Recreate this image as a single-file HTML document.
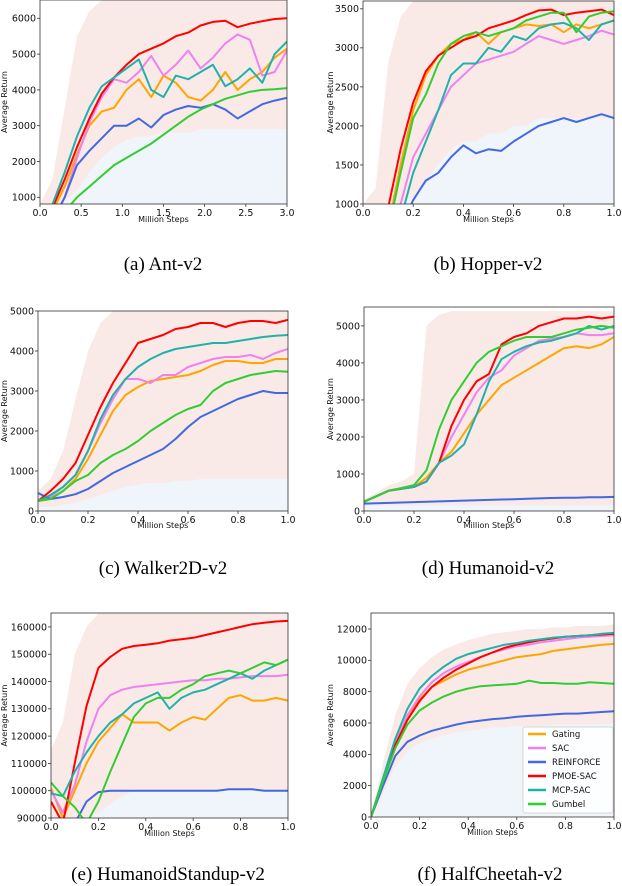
<!DOCTYPE html>
<html><head><meta charset="utf-8">
<style>
html,body{margin:0;padding:0;background:#fff;}
svg{display:block;}
</style></head>
<body>
<svg id="fig" width="622" height="886" viewBox="0 0 622 886" xmlns="http://www.w3.org/2000/svg" font-family="'DejaVu Sans','Liberation Sans',sans-serif"></svg>
<script>
const seriesNames = ["Gating","SAC","REINFORCE","PMOE-SAC","MCP-SAC","Gumbel"];
const seriesColors = ["#FFA500","#EE82EE","#4169E1","#FF0000","#20B2AA","#32CD32"];
const xsA = [0,0.15,0.3,0.45,0.6,0.75,0.9,1.05,1.2,1.35,1.5,1.65,1.8,1.95,2.1,2.25,2.4,2.55,2.7,2.85,3.0];
const xsU = [0,0.05,0.1,0.15,0.2,0.25,0.3,0.35,0.4,0.45,0.5,0.55,0.6,0.65,0.7,0.75,0.8,0.85,0.9,0.95,1.0];

const antGating = [100,600,1300,2200,3000,3400,3500,4000,4300,3800,4400,4200,3800,3700,4000,4500,4000,4300,4500,4900,5150];
const antSAC = [100,400,1000,2100,3100,3800,4300,4200,4500,4950,4400,4700,5100,4600,4900,5300,5550,5400,4400,4500,5100];
const antREINFORCE = [0,300,1000,1900,2300,2650,3000,3000,3200,2950,3300,3450,3550,3500,3600,3450,3200,3400,3600,3700,3780];
const antPMOE = [200,700,1500,2400,3200,3900,4350,4700,5000,5150,5300,5500,5600,5800,5900,5930,5750,5850,5920,5980,6000];
const antMCP = [200,800,1700,2700,3500,4100,4350,4600,4850,4000,3800,4400,4300,4500,4700,4100,4300,4600,4200,5000,5350];
const antGumbel = [-200,200,600,1000,1300,1600,1900,2100,2300,2500,2750,3000,3250,3450,3600,3750,3850,3950,4000,4020,4050];
const antEnvHi = [800,1500,3500,5500,6200,6500,6500,6500,6500,6500,6500,6500,6500,6500,6500,6500,6500,6500,6500,6500,6500];
const antEnvLo = [800,800,900,1200,1700,2100,2400,2600,2700,2700,2800,2800,2800,2900,2900,2900,2900,2900,2900,2900,2900];

const hopGating = [0,200,700,1500,2200,2650,2900,3050,3100,3200,3050,3200,3250,3300,3280,3300,3200,3300,3250,3300,3350];
const hopSAC = [0,100,500,1000,1600,1900,2200,2500,2650,2800,2850,2900,2950,3050,3150,3100,3050,3100,3150,3220,3170];
const hopREINFORCE = [0,0,300,700,1050,1300,1400,1600,1750,1650,1700,1680,1800,1900,2000,2050,2100,2050,2100,2150,2100];
const hopPMOE = [0,300,950,1700,2300,2700,2900,3000,3100,3150,3250,3300,3350,3420,3480,3490,3420,3450,3470,3490,3420];
const hopMCP = [0,0,300,800,1400,1800,2200,2650,2800,2800,3000,2950,3150,3100,3250,3300,3320,3250,3100,3300,3350];
const hopGumbel = [0,200,650,1400,2100,2400,2800,3050,3150,3200,3150,3200,3250,3350,3400,3450,3450,3200,3400,3450,3470];
const hopEnvHi = [1000,1200,2800,3400,3600,3600,3600,3600,3600,3600,3600,3600,3600,3600,3600,3600,3600,3600,3600,3600,3600];
const hopEnvLo = [1000,1000,1000,1000,1100,1300,1500,1700,1800,1800,1900,1900,2000,2000,2100,2100,2100,2100,2100,2100,2100];

const walGating = [250,300,500,800,1300,1900,2500,2900,3100,3250,3300,3350,3400,3500,3650,3750,3750,3700,3700,3800,3800];
const walSAC = [250,350,600,900,1500,2200,2800,3300,3300,3200,3400,3400,3600,3700,3800,3850,3850,3900,3800,3950,4050];
const walREINFORCE = [450,300,350,420,550,750,950,1100,1250,1400,1550,1800,2100,2350,2500,2650,2800,2900,3000,2950,2950];
const walPMOE = [250,500,800,1200,1900,2600,3200,3700,4200,4300,4400,4550,4600,4700,4700,4600,4700,4750,4750,4700,4780];
const walMCP = [250,400,600,900,1500,2300,2900,3300,3600,3800,3950,4050,4100,4150,4200,4200,4250,4300,4350,4380,4400];
const walGumbel = [250,300,500,750,900,1200,1400,1550,1750,2000,2200,2400,2550,2650,3000,3200,3300,3400,3450,3500,3480];
const walEnvHi = [500,800,1500,2800,4000,4700,5000,5000,5000,5000,5000,5000,5000,5000,5000,5000,5000,5000,5000,5000,5000];
const walEnvLo = [100,100,150,200,300,400,500,600,650,700,700,750,750,800,800,800,800,800,800,800,800];

const humGating = [250,400,550,600,650,900,1300,1600,2100,2600,3000,3400,3600,3800,4000,4200,4400,4450,4400,4500,4700];
const humSAC = [250,400,550,600,650,800,1300,2000,2600,3200,3600,3800,4200,4400,4600,4650,4700,4800,4750,4750,4800];
const humREINFORCE = [200,210,220,230,240,250,260,270,280,290,300,310,320,330,340,350,360,360,370,370,380];
const humPMOE = [250,400,550,600,650,800,1300,2300,3000,3500,3700,4500,4700,4800,5000,5100,5200,5200,5250,5200,5250];
const humMCP = [250,400,550,600,650,800,1300,1500,1800,2600,3500,4100,4300,4450,4550,4600,4700,4800,5000,4900,5000];
const humGumbel = [250,400,550,620,700,1100,2200,3000,3500,4000,4300,4450,4600,4700,4700,4700,4800,4900,4950,5000,4950];
const humEnvHi = [300,500,700,800,1000,5000,5300,5400,5400,5400,5400,5400,5400,5400,5400,5400,5400,5400,5400,5400,5400];
const humEnvLo = [150,150,150,150,150,150,150,150,150,150,150,150,150,150,150,150,150,150,150,150,150];

const hsGating = [101000,90000,100000,110000,118000,123000,128000,125000,125000,125000,122000,125000,127000,126000,130000,134000,135000,133000,133000,134000,133000];
const hsSAC = [100000,92000,102000,118000,130000,135000,137000,138000,138500,139000,139500,140000,140500,140500,141000,141000,141500,142000,142000,142000,142500];
const hsREINFORCE = [90000,85000,88000,96000,99500,100000,100000,100000,100000,100000,100000,100000,100000,100000,100000,100500,100500,100500,100000,100000,100000];
const hsPMOE = [96000,88000,110000,131000,145000,149000,152000,153000,153500,154000,155000,155500,156000,157000,158000,159000,160000,161000,161500,162000,162200];
const hsMCP = [99000,98000,107000,114000,120000,125000,128000,132000,134000,136000,130000,134000,136000,137000,139000,141000,143000,141000,144000,146000,148000];
const hsGumbel = [103000,98000,94000,88000,96000,107000,117000,127000,132000,134000,134000,137000,139000,142000,143000,144000,143000,145000,147000,146000,148000];
const hsEnvHi = [115000,125000,150000,160000,165000,165000,165000,165000,165000,165000,165000,165000,165000,165000,165000,165000,165000,165000,165000,165000,165000];
const hsEnvLo = [90000,90000,90000,90000,92000,95000,98000,100000,100000,100000,100000,100000,100000,100000,100000,100000,100000,100000,100000,100000,100000];

const hcGating = [0,2400,4600,6300,7500,8300,8700,9100,9400,9600,9800,10000,10200,10300,10400,10600,10700,10800,10900,11000,11050];
const hcSAC = [0,2400,4700,6500,7700,8600,9200,9600,9900,10200,10500,10700,10900,11000,11150,11250,11350,11450,11500,11550,11600];
const hcREINFORCE = [0,2000,3900,4800,5200,5500,5700,5900,6050,6150,6250,6300,6400,6450,6500,6550,6600,6600,6650,6700,6750];
const hcPMOE = [0,2400,4600,6200,7400,8300,8900,9400,9800,10200,10500,10800,11000,11150,11300,11400,11500,11550,11600,11650,11700];
const hcMCP = [0,2500,5000,6900,8200,9000,9600,10100,10400,10600,10800,11000,11100,11250,11350,11450,11500,11550,11600,11700,11750];
const hcGumbel = [0,2300,4400,5900,6800,7300,7700,8000,8200,8350,8400,8450,8500,8700,8550,8550,8500,8500,8600,8550,8500];
const hcEnvHi = [0,3500,6500,8500,9500,10200,10700,11000,11300,11500,11700,11800,11900,12000,12000,12100,12100,12200,12200,12200,12300];
const hcEnvLo = [0,1500,3200,4200,4700,5000,5200,5400,5500,5600,5700,5700,5800,5800,5800,5900,5900,5900,5900,5900,6000];

const antXTicks = [0,0.5,1.0,1.5,2.0,2.5,3.0];
const unitXTicks = [0,0.2,0.4,0.6,0.8,1.0];
const antYTicks = [1000,2000,3000,4000,5000,6000];
const hopYTicks = [1000,1500,2000,2500,3000,3500];
const walYTicks = [0,1000,2000,3000,4000,5000];
const humYTicks = [0,1000,2000,3000,4000,5000];
const hsYTicks = [90000,100000,110000,120000,130000,140000,150000,160000];
const hcYTicks = [0,2000,4000,6000,8000,10000,12000];

const NS = "http://www.w3.org/2000/svg";
const fig = document.getElementById("fig");
function mk(tag, attrs, parent){
  const e = document.createElementNS(NS, tag);
  for (const k in attrs) e.setAttribute(k, attrs[k]);
  (parent||fig).appendChild(e);
  return e;
}

const panels = [
  {id:"ant", x0:40,x1:287,top:0,bottom:204,xmin:0,xmax:3,ymin:813,ymax:6511,xs:xsA,xt:antXTicks,yt:antYTicks,
   data:[antGating,antSAC,antREINFORCE,antPMOE,antMCP,antGumbel],hi:antEnvHi,lo:antEnvLo,ylx:7,xly:222,cap:"(a)  Ant-v2",capx:163,capy:270},
  {id:"hopper", x0:363,x1:614,top:1,bottom:204,xmin:0,xmax:1,ymin:1000,ymax:3600,xs:xsU,xt:unitXTicks,yt:hopYTicks,
   data:[hopGating,hopSAC,hopREINFORCE,hopPMOE,hopMCP,hopGumbel],hi:hopEnvHi,lo:hopEnvLo,ylx:333,xly:222,cap:"(b)  Hopper-v2",capx:488,capy:270},
  {id:"walker", x0:38,x1:288,top:311,bottom:511,xmin:0,xmax:1,ymin:0,ymax:5000,xs:xsU,xt:unitXTicks,yt:walYTicks,
   data:[walGating,walSAC,walREINFORCE,walPMOE,walMCP,walGumbel],hi:walEnvHi,lo:walEnvLo,ylx:7,xly:528,cap:"(c)  Walker2D-v2",capx:163,capy:574},
  {id:"humanoid", x0:364,x1:614,top:307,bottom:511,xmin:0,xmax:1,ymin:0,ymax:5510,xs:xsU,xt:unitXTicks,yt:humYTicks,
   data:[humGating,humSAC,humREINFORCE,humPMOE,humMCP,humGumbel],hi:humEnvHi,lo:humEnvLo,ylx:333,xly:528,cap:"(d)  Humanoid-v2",capx:488,capy:574},
  {id:"standup", x0:51,x1:288,top:613,bottom:818,xmin:0,xmax:1,ymin:90000,ymax:165100,xs:xsU,xt:unitXTicks,yt:hsYTicks,
   data:[hsGating,hsSAC,hsREINFORCE,hsPMOE,hsMCP,hsGumbel],hi:hsEnvHi,lo:hsEnvLo,ylx:7,xly:836,cap:"(e)  HumanoidStandup-v2",capx:168,capy:880},
  {id:"halfcheetah", x0:371,x1:614,top:613,bottom:817,xmin:0,xmax:1,ymin:0,ymax:13021,xs:xsU,xt:unitXTicks,yt:hcYTicks,
   data:[hcGating,hcSAC,hcREINFORCE,hcPMOE,hcMCP,hcGumbel],hi:hcEnvHi,lo:hcEnvLo,ylx:333,xly:835,cap:"(f)  HalfCheetah-v2",capx:490,capy:880}
];

panels.forEach(p=>{
  const sx = v => p.x0 + (v-p.xmin)/(p.xmax-p.xmin)*(p.x1-p.x0);
  const sy = v => p.bottom - (v-p.ymin)/(p.ymax-p.ymin)*(p.bottom-p.top);
  const g = mk("g", {});
  
  
  const cid = "clip-"+p.id;
  const cp = mk("clipPath", {id:cid}, g);
  mk("rect", {x:p.x0,y:p.top,width:p.x1-p.x0,height:p.bottom-p.top}, cp);
  const plot = mk("g", {"clip-path":"url(#"+cid+")"}, g);
  let d = "M"+sx(p.xs[0])+","+sy(p.ymin);
  p.xs.forEach((x,i)=>{ d += " L"+sx(x)+","+sy(p.lo[i]); });
  d += " L"+sx(p.xs[p.xs.length-1])+","+sy(p.ymin)+" Z";
  const lb = mk("path", {d:d, fill:"rgba(200,215,240,0.28)"}, plot);
  
  
  d = "";
  p.xs.forEach((x,i)=>{ d += (i?" L":"M")+sx(x)+","+sy(p.hi[i]); });
  for (let i=p.xs.length-1;i>=0;i--) d += " L"+sx(p.xs[i])+","+sy(p.lo[i]);
  d += " Z";
  const ub = mk("path", {d:d, fill:"rgba(240,200,195,0.38)"}, plot);
  
  
  p.data.forEach((arr,si)=>{
    let pd = "";
    arr.forEach((v,i)=>{ pd += (i?" L":"M")+sx(p.xs[i]).toFixed(1)+","+sy(v).toFixed(1); });
    const ln = mk("path", {d:pd, fill:"none", stroke:seriesColors[si], "stroke-width":2, "stroke-linejoin":"round"}, plot);
    
    
  });
  const fr = mk("rect", {x:p.x0,y:p.top,width:p.x1-p.x0,height:p.bottom-p.top,fill:"none",stroke:"#333","stroke-width":0.8}, g);
  
  
  p.xt.forEach(t=>{
    const x = sx(t);
    mk("line", {x1:x,x2:x,y1:p.bottom,y2:p.bottom+3,stroke:"#333","stroke-width":0.8}, g);
    const tx = mk("text", {x:x,y:p.bottom+12,"font-size":9.5,"text-anchor":"middle",fill:"#111"}, g);
    tx.textContent = t.toFixed(1);
    
    
  });
  p.yt.forEach(t=>{
    const y = sy(t);
    mk("line", {x1:p.x0-3,x2:p.x0,y1:y,y2:y,stroke:"#333","stroke-width":0.8}, g);
    const ty = mk("text", {x:p.x0-4,y:y+3.4,"font-size":9.5,"text-anchor":"end",fill:"#111"}, g);
    ty.textContent = String(t);
    
    
  });
  const xl = mk("text", {x:(p.x0+p.x1)/2,y:p.xly,"font-size":8,"text-anchor":"middle",fill:"#111"}, g);
  xl.textContent = "Million Steps";
  
  
  const cy = (p.top+p.bottom)/2;
  const yl = mk("text", {x:p.ylx,y:cy,"font-size":8,"text-anchor":"middle",fill:"#111",transform:"rotate(-90 "+p.ylx+" "+cy+")"}, g);
  yl.textContent = "Average Return";
  
  
  const cap = mk("text", {x:p.capx,y:p.capy,"font-size":19,"text-anchor":"middle",fill:"#000","font-family":"'Liberation Serif',serif"}, g);
  cap.textContent = p.cap;
  
  
});

const lg = mk("g", {});


mk("rect", {x:523,y:727,width:90,height:86,rx:2,fill:"rgba(255,255,255,0.85)",stroke:"#ccc","stroke-width":0.8}, lg);
seriesNames.forEach((n,i)=>{
  const y = 734 + i*14;
  const e = mk("g", {}, lg);
  
  
  mk("line", {x1:528,x2:546,y1:y,y2:y,stroke:seriesColors[i],"stroke-width":2.5}, e);
  const t = mk("text", {x:552,y:y+3,"font-size":8.5,fill:"#111"}, e);
  t.textContent = n;
});
</script>
</body></html>
